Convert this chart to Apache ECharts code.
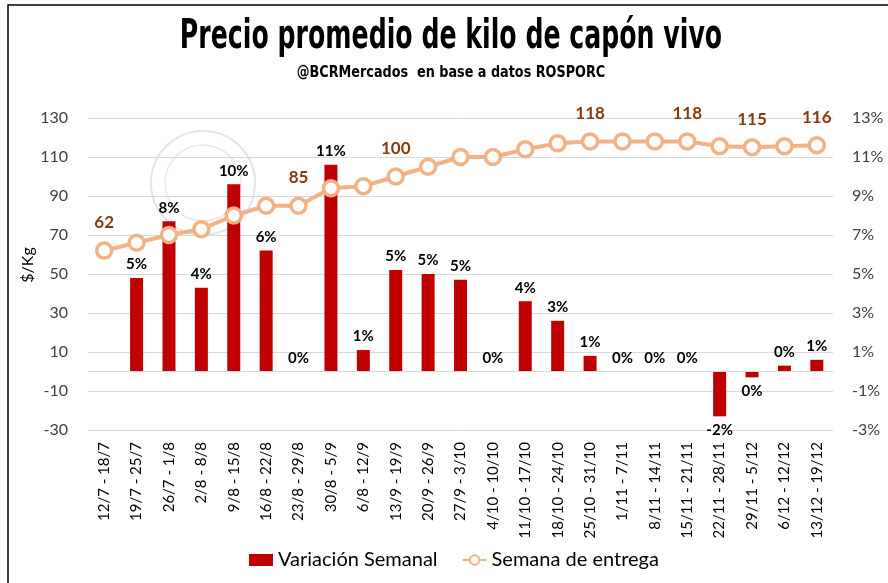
<!DOCTYPE html>
<html>
<head>
<meta charset="utf-8">
<title>Precio promedio de kilo de capón vivo</title>
<script src="https://cdn.jsdelivr.net/npm/echarts@6/dist/echarts.min.js"></script>
<style>
	html, body {
		margin: 0;
		padding: 0;
		background: #fff;
	}

	#chart {
		width: 888px;
		height: 583px;
	}
</style>
</head>
<body>
<div id="chart"></div>
<script>
// semanas
const categories = [
	"12/7 - 18/7", "19/7 - 25/7", "26/7 - 1/8", "2/8 - 8/8", "9/8 - 15/8",
	"16/8 - 22/8", "23/8 - 29/8", "30/8 - 5/9", "6/8 - 12/9", "13/9 - 19/9",
	"20/9 - 26/9", "27/9 - 3/10", "4/10 - 10/10", "11/10 - 17/10", "18/10 - 24/10",
	"25/10 - 31/10", "1/11 - 7/11", "8/11 - 14/11", "15/11 - 21/11", "22/11 - 28/11",
	"29/11 - 5/12", "6/12 - 12/12", "13/12 - 19/12"
];

// variacion semanal (%), la primera semana no tiene dato
const variacion = [
	null, 4.8, 7.7, 4.3, 9.6, 6.2, 0, 10.6, 1.1, 5.2, 5.0, 4.7, 0,
	3.6, 2.6, 0.8, 0, 0, 0, -2.3, -0.3, 0.3, 0.6
];

// precio $/Kg
const precio = [
	62, 66, 70, 73, 80, 85, 85, 94, 95, 100, 105, 110, 110,
	114, 117, 118, 118, 118, 118, 115.5, 115, 115.5, 116
];
const labeledPoints = [0, 6, 9, 15, 18, 20, 22];

const leftTicks = {min: -30, max: 130, interval: 20};
const rightTicks = {min: -3, max: 13, interval: 2};

const chartDom = document.getElementById("chart");
const myChart = echarts.init(chartDom);
let option;

const FONT = "Lato, 'Open Sans', sans-serif";
const TITLE_FONT = "'DejaVu Sans', sans-serif";

const barData = variacion.map((v) => {
	return {
		value: v,
		label: {
			position: v < 0 ? "bottom" : "top"
		}
	};
});

const lineData = precio.map((v, i) => {
	return {
		value: v,
		label: {show: labeledPoints.indexOf(i) >= 0}
	};
});

option = {
	backgroundColor: "#fff",
	animation: false,
	textStyle: {fontFamily: FONT},
	graphic: [{
		type: "polyline",
		shape: {points: [[8, 590], [8, 5], [890, 5]]},
		style: {stroke: "#000", lineWidth: 1.5, fill: null},
		silent: true
	}, {
		// titulo angosto
		type: "text",
		x: 451,
		y: 38,
		scaleX: 0.63,
		style: {
			text: "Precio promedio de kilo de capón vivo",
			fontFamily: TITLE_FONT,
			fontWeight: "bold",
			fontSize: 40,
			fill: "#000",
			align: "center",
			verticalAlign: "middle"
		},
		silent: true
	}, {
		type: "text",
		x: 451,
		y: 73,
		scaleX: 0.8,
		style: {
			text: "@BCRMercados  en base a datos ROSPORC",
			fontFamily: TITLE_FONT,
			fontWeight: "bold",
			fontSize: 16,
			fill: "#000",
			align: "center",
			verticalAlign: "middle"
		},
		silent: true
	}, {
		type: "text",
		x: 28,
		y: 265,
		rotation: Math.PI / 2,
		style: {
			text: "$/Kg",
			fontFamily: FONT,
			fontSize: 16,
			fill: "#000",
			align: "center",
			verticalAlign: "middle"
		},
		silent: true
	}, {
		type: "circle",
		shape: {cx: 203, cy: 183, r: 52},
		style: {stroke: "#e1e4e9", lineWidth: 2, fill: null},
		silent: true,
		z: -1
	}, {
		type: "circle",
		shape: {cx: 203, cy: 183, r: 38},
		style: {stroke: "#e6e8ec", lineWidth: 1.5, fill: null},
		silent: true,
		z: -1
	}],
	legend: {
		bottom: 8,
		left: 244,
		itemGap: 24,
		itemWidth: 24,
		itemHeight: 12,
		textStyle: {fontFamily: FONT, fontSize: 20, color: "#000"},
		data: [{
			name: "Variación Semanal",
			icon: "rect"
		}, {
			name: "Semana de entrega"
		}]
	},
	grid: {
		left: 88,
		right: 55,
		top: 118,
		bottom: 153
	},
	xAxis: {
		type: "category",
		data: categories,
		axisLine: {show: false},
		axisTick: {show: false},
		axisLabel: {
			rotate: 90,
			interval: 0,
			margin: 12,
			fontFamily: FONT,
			fontSize: 15,
			color: "#000"
		}
	},
	yAxis: [{
		type: "value",
		min: leftTicks.min,
		max: leftTicks.max,
		interval: leftTicks.interval,
		axisLine: {show: false},
		axisTick: {show: false},
		axisLabel: {
			margin: 20,
			fontFamily: FONT,
			fontSize: 16,
			color: "#404040"
		},
		splitLine: {lineStyle: {color: "#d9d9d9", width: 1}}
	}, {
		type: "value",
		min: rightTicks.min,
		max: rightTicks.max,
		interval: rightTicks.interval,
		axisLine: {show: false},
		axisTick: {show: false},
		axisLabel: {
			margin: 19,
			formatter: "{value}%",
			fontFamily: FONT,
			fontSize: 16,
			color: "#404040"
		},
		splitLine: {show: false}
	}],
	series: [{
		name: "Variación Semanal",
		type: "bar",
		yAxisIndex: 1,
		barWidth: 13,
		itemStyle: {color: "#C00000"},
		label: {
			show: true,
			distance: 6,
			fontFamily: FONT,
			fontWeight: "bold",
			fontSize: 15,
			color: "#000",
			formatter: (p) => Math.round(p.value) + "%"
		},
		markLine: {
			silent: true,
			symbol: "none",
			label: {show: false},
			lineStyle: {color: "#d9d9d9", type: "solid", width: 1},
			data: [{yAxis: 0}]
		},
		data: barData,
		z: 2
	}, {
		name: "Semana de entrega",
		type: "line",
		yAxisIndex: 0,
		symbol: "circle",
		symbolSize: 15,
		lineStyle: {color: "#F4B183", width: 4},
		itemStyle: {color: "#fff", borderColor: "#F4B183", borderWidth: 3.5},
		label: {
			position: "top",
			distance: 10,
			fontFamily: FONT,
			fontWeight: "bold",
			fontSize: 17,
			color: "#843C0C"
		},
		data: lineData,
		z: 5
	}]
};

option && myChart.setOption(option);
</script>
</body>
</html>
